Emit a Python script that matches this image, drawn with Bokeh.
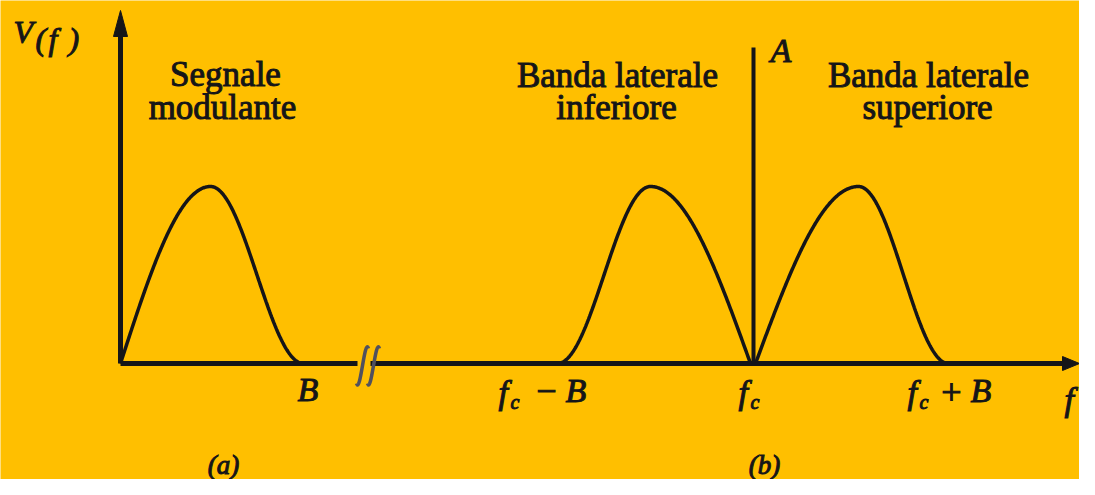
import numpy as np
from bokeh.plotting import figure
from bokeh.models import Range1d
from bokeh.embed import file_html
from bokeh.resources import INLINE
from bokeh.core.properties import value

BG = "#FFBF00"
INK = "#151518"
SERIF = "Liberation Serif"

# ---- diagram data (drawing units: x = frequency axis, y = amplitude, screen-like) ----
baseline = 363
pulse_height = 177
pulse_start = [120, 557, 755]
pulse_peak = [210, 650, 858]
pulse_end = [303, 750, 948]
pulse_steep_first = [True, False, True]   # which side rises steeply

carrier_x = 753
carrier_top = 47

axis_x0 = 120
axis_top = 10
axis_right = 1079
break_left = 357
break_right = 370

title_text = ["Segnale", "modulante", "Banda laterale", "inferiore", "Banda laterale", "superiore"]
title_x = [225, 222, 617, 616, 928, 927]
title_y = [87, 120, 88, 120, 88, 120]

math_text = ["B", "f", "B", "f", "f", "B", "f", "A"]
math_x = [297, 498, 565, 738, 907, 970, 1064, 770]
math_y = [401, 404, 402, 404, 404, 402, 411, 62]

sub_text = ["c", "c", "c"]
sub_x = [510, 750, 919]
sub_y = [409, 409, 409]

op_text = ["\u2212", "+"]
op_x = [546, 951]
op_y = [403, 404]

fig_label = ["(a)", "(b)"]
fig_label_x = [223, 764]
fig_label_y = [474, 474]


def shape(t, tp):
    # steep rise on the left side, tangential decay on the right side
    out = np.where(t < tp, np.sin(0.5 * np.pi * t / tp),
                   0.5 * (1 + np.cos(np.pi * (t - tp) / (1 - tp))))
    return out


def by(ys, size):
    # the svg text sits lower than the requested alphabetic baseline; compensate
    return [v - 0.36 * size for v in ys]


p = figure(width=1079, height=479, output_backend="svg", toolbar_location=None,
           x_range=Range1d(0, 1079), y_range=Range1d(479, 0),
           min_border=0, background_fill_color=BG, border_fill_color=BG)
p.axis.visible = False
p.grid.visible = False
p.outline_line_color = None

# pulses
xs, ys = [], []
for s, pk, e, steep in zip(pulse_start, pulse_peak, pulse_end, pulse_steep_first):
    x = np.linspace(s, e, 300)
    if steep:
        t = (x - s) / (e - s)
        tp = (pk - s) / (e - s)
    else:
        t = (e - x) / (e - s)
        tp = (e - pk) / (e - s)
    xs.append(list(x))
    ys.append(list(baseline - pulse_height * shape(t, tp)))
p.multi_line(xs, ys, line_color=INK, line_width=3.5)

# axes
p.segment(x0=[axis_x0, axis_x0, break_right], y0=[baseline, baseline, baseline],
          x1=[axis_x0, break_left, axis_right - 12], y1=[axis_top + 22, baseline, baseline],
          line_color=INK, line_width=5)
# carrier line
p.segment(x0=[carrier_x], y0=[baseline], x1=[carrier_x], y1=[carrier_top],
          line_color=INK, line_width=4)

# arrowheads
p.patches(xs=[[axis_x0, axis_x0 - 7, axis_x0 + 7], [axis_right, axis_right - 17, axis_right - 17]],
          ys=[[axis_top, axis_top + 26, axis_top + 26], [baseline, baseline - 7, baseline + 7]],
          fill_color=INK, line_color=INK)

# axis break marks
p.bezier(x0=[368, 379], y0=[348, 348], x1=[356, 367], y1=[383, 383],
         cx0=[364, 375], cy0=[336, 336], cx1=[360, 371], cy1=[394, 394],
         line_color="#50505e", line_width=3.5)

common = dict(text_font=value(SERIF), text_baseline="alphabetic", text_color=INK,
              text_outline_color=INK)

# titles
p.text(x=title_x, y=by(title_y, 35), text=title_text, text_font_size="35px",
       text_align="center", **common)

# math labels
p.text(x=math_x, y=by(math_y, 34), text=math_text, text_font_size="34px",
       text_font_style="italic", text_align="left", **common)
p.text(x=sub_x, y=by(sub_y, 20), text=sub_text, text_font_size="20px",
       text_font_style="italic", text_align="left", **common)
p.text(x=op_x, y=by(op_y, 36), text=op_text, text_font_size="36px",
       text_align="center", **common)

# V(f)
p.text(x=[13], y=by([43], 32), text=["V"], text_font_size="32px",
       text_font_style="italic", **common)
p.text(x=[35, 68], y=by([50, 50], 32), text=["(", ")"], text_font_size="32px",
       text_font_style="italic", **common)
p.text(x=[48], y=by([50], 32), text=["f"], text_font_size="32px",
       text_font_style="italic", **common)

# (a), (b)
p.text(x=fig_label_x, y=by(fig_label_y, 27), text=fig_label, text_font_size="27px",
       text_font_style="italic", text_align="center", **common)

open("out.html", "w").write(file_html(p, INLINE))
